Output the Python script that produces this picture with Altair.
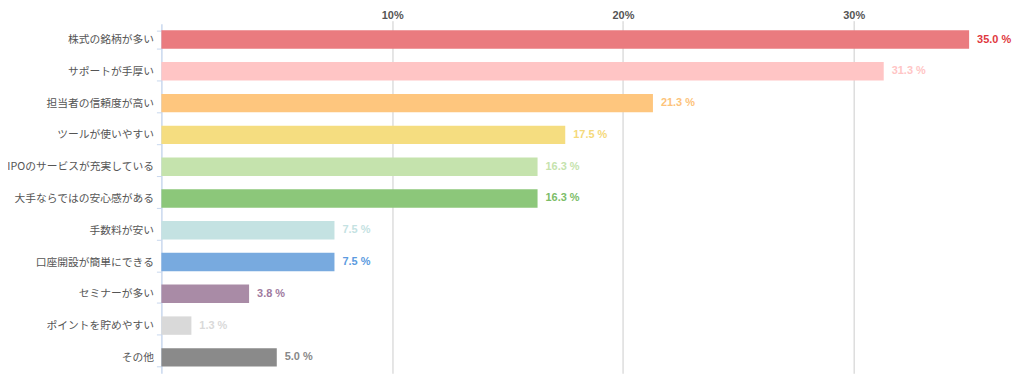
import altair as alt
import pandas as pd

categories = ["株式の銘柄が多い", "サポートが手厚い", "担当者の信頼度が高い", "ツールが使いやすい",
              "IPOのサービスが充実している", "大手ならではの安心感がある", "手数料が安い",
              "口座開設が簡単にできる", "セミナーが多い", "ポイントを貯めやすい", "その他"]
values = [35.0, 31.3, 21.3, 17.5, 16.3, 16.3, 7.5, 7.5, 3.8, 1.3, 5.0]
bar_colors = ["#ea7b7f", "#ffc5c5", "#fec67e", "#f5dd80", "#c5e3ad", "#8cc77a",
              "#c4e2e2", "#78aadf", "#a98ba6", "#d9d9d9", "#8a8a8a"]
label_colors = ["#e0383e", "#ffc5c5", "#fdc37a", "#f5d97a", "#c5e3ad", "#7cbd68",
                "#c4e2e2", "#5b9be0", "#a07a9e", "#d9d9d9", "#888888"]
x_ticks = [10, 20, 30]

df = pd.DataFrame({
    "cat": categories,
    "value": values,
    "bar_color": bar_colors,
    "label_color": label_colors,
    "label": [f"{v:.1f} %" for v in values],
})

FONT = "Noto Sans CJK JP"
LATIN = "Liberation Sans"

y = alt.Y("cat:N", sort=categories, title=None,
          scale=alt.Scale(paddingInner=0.42, paddingOuter=0.21),
          axis=alt.Axis(labelFont=FONT, labelFontSize=10.8, labelColor="#555555",
                        labelPadding=3, tickBand="extent", tickColor="#c9d8ee",
                        tickSize=5, domainColor="#c9d8ee", domainWidth=1.5, grid=False))
x = alt.X("value:Q", title=None,
          scale=alt.Scale(domain=[0, 36.6], nice=False, zero=True),
          axis=alt.Axis(orient="top", values=x_ticks, labelExpr="datum.value + '%'",
                        labelFont=LATIN, labelFontSize=11, labelFontWeight="bold",
                        labelColor="#555555", domain=False, ticks=True, tickSize=3,
                        tickColor="#cccccc", labelPadding=0,
                        grid=True, gridColor="#cccccc", gridWidth=1))

bars = alt.Chart(df).mark_bar().encode(
    x=x, y=y,
    color=alt.Color("bar_color:N", scale=None),
)

labels = alt.Chart(df).mark_text(align="left", baseline="middle", dx=8, font=LATIN,
                                 fontSize=11, fontWeight="bold").encode(
    x=alt.X("value:Q"), y=alt.Y("cat:N", sort=categories),
    text="label:N",
    color=alt.Color("label_color:N", scale=None),
)

chart = (bars + labels).properties(
    width=848, height=351,
    autosize=alt.AutoSizeParams(type="none"),
    padding={"left": 154, "top": 15, "right": 10, "bottom": 1},
).configure_view(stroke=None)

chart.save("out.html", embed_options={"renderer": "svg", "actions": False})
